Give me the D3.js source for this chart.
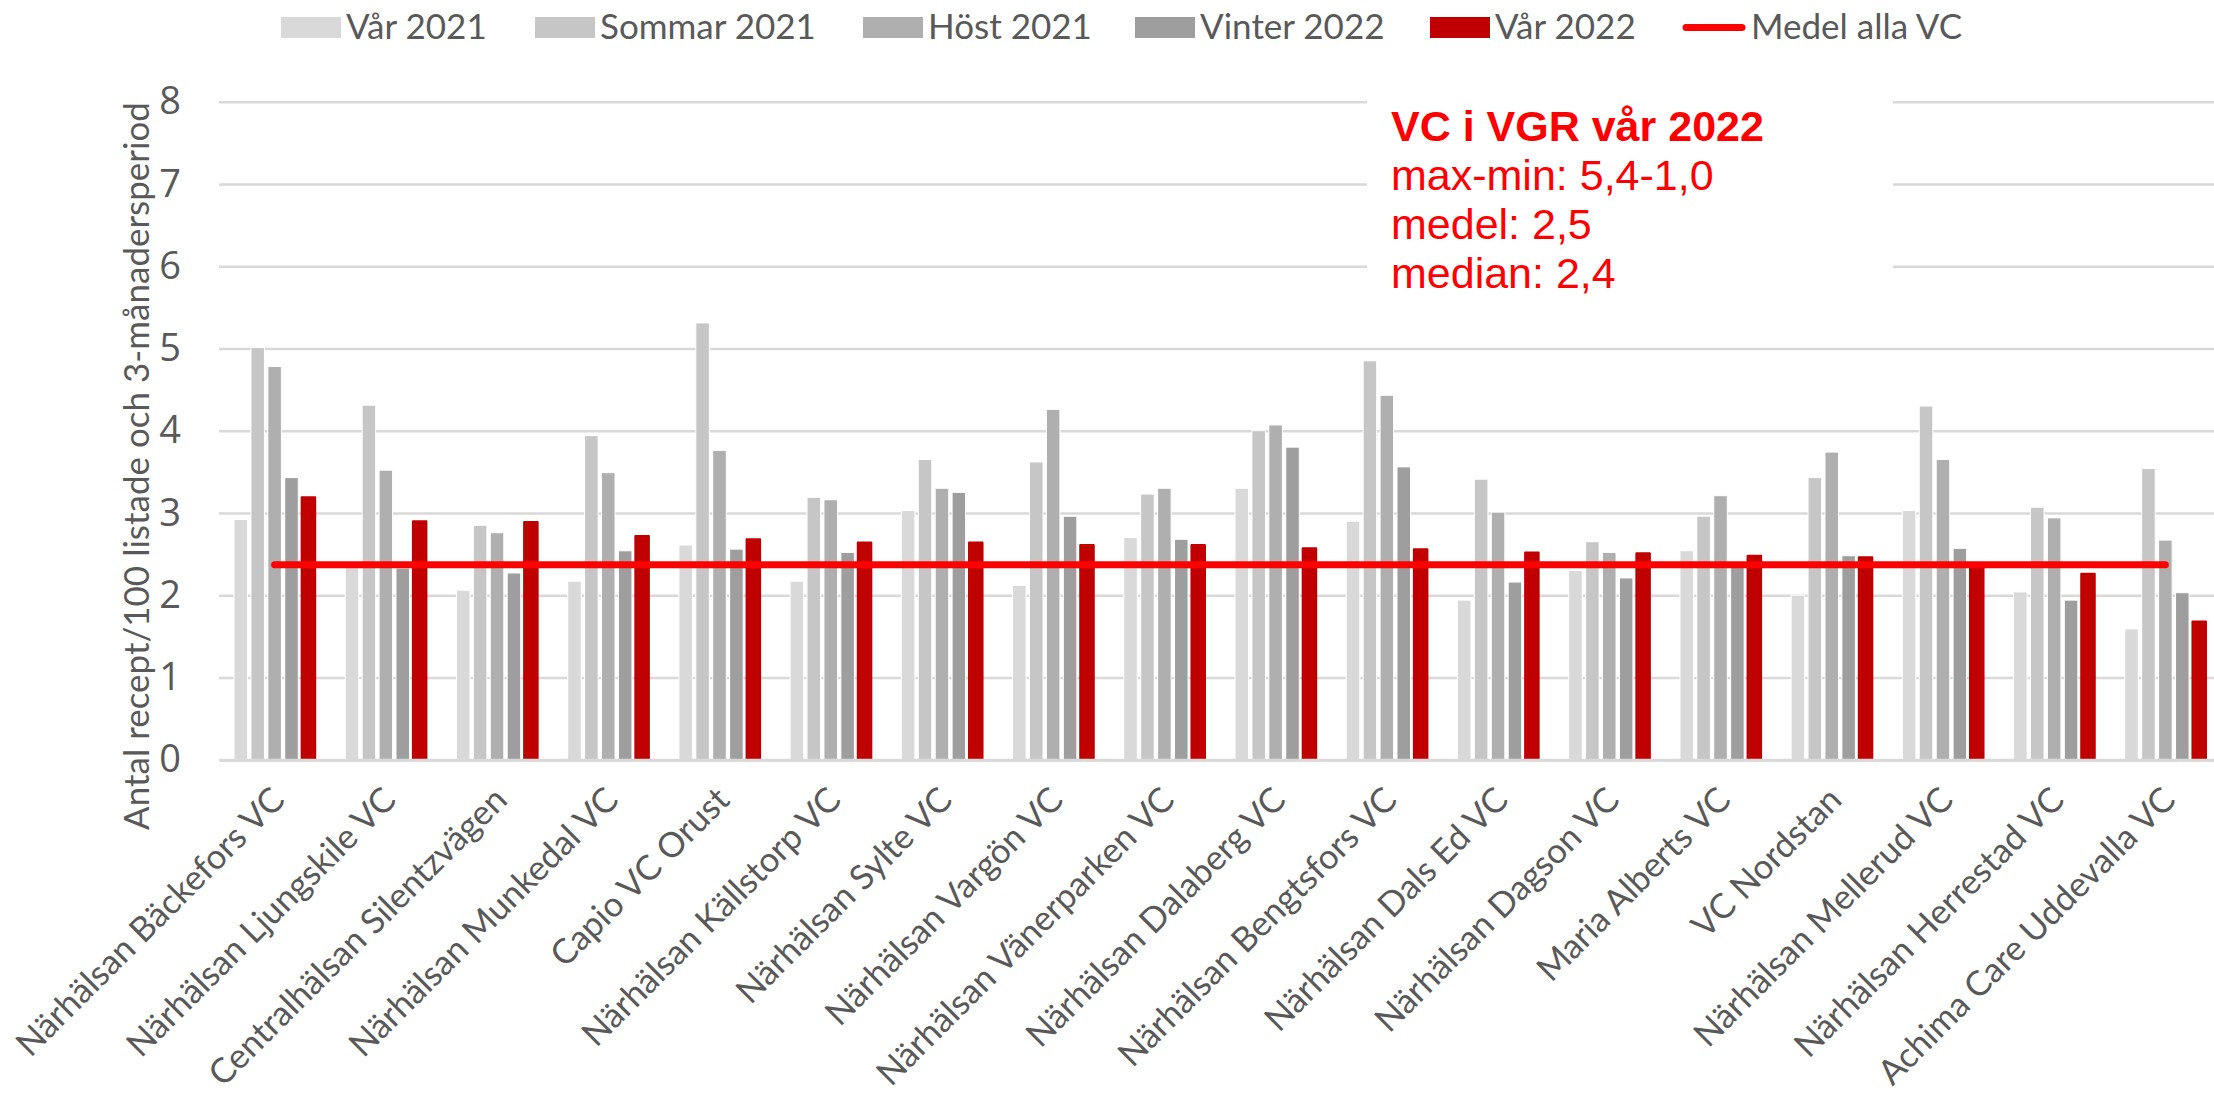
<!DOCTYPE html>
<html>
<head>
<meta charset="utf-8">
<script src="https://cdn.jsdelivr.net/npm/d3@7"></script>
<style>
  html, body { margin: 0; padding: 0; background: #fff; }
  svg { display: block; }
</style>
</head>
<body>
<svg id="chart" width="2214" height="1096"></svg>
<script>
const categories = [
  "Närhälsan Bäckefors VC", "Närhälsan Ljungskile VC", "Centralhälsan Silentzvägen",
  "Närhälsan Munkedal VC", "Capio VC Orust", "Närhälsan Källstorp VC",
  "Närhälsan Sylte VC", "Närhälsan Vargön VC", "Närhälsan Vänerparken VC",
  "Närhälsan Dalaberg VC", "Närhälsan Bengtsfors VC", "Närhälsan Dals Ed VC",
  "Närhälsan Dagson VC", "Maria Alberts VC", "VC Nordstan",
  "Närhälsan Mellerud VC", "Närhälsan Herrestad VC", "Achima Care Uddevalla VC"
];
const seriesNames = ["Vår 2021", "Sommar 2021", "Höst 2021", "Vinter 2022", "Vår 2022"];
const var2021    = [2.92, 2.35, 2.06, 2.17, 2.61, 2.17, 3.03, 2.12, 2.70, 3.30, 2.90, 1.94, 2.30, 2.54, 2.00, 3.03, 2.04, 1.59];
const sommar2021 = [5.01, 4.31, 2.85, 3.94, 5.31, 3.19, 3.65, 3.62, 3.23, 4.00, 4.85, 3.41, 2.65, 2.96, 3.43, 4.30, 3.07, 3.54];
const host2021   = [4.78, 3.52, 2.76, 3.49, 3.76, 3.16, 3.30, 4.26, 3.30, 4.07, 4.43, 3.01, 2.52, 3.21, 3.74, 3.65, 2.94, 2.67];
const vinter2022 = [3.43, 2.33, 2.27, 2.54, 2.56, 2.52, 3.25, 2.96, 2.68, 3.80, 3.56, 2.16, 2.21, 2.34, 2.48, 2.57, 1.94, 2.03];
const var2022    = [3.19, 2.90, 2.89, 2.72, 2.68, 2.64, 2.64, 2.61, 2.61, 2.57, 2.56, 2.52, 2.51, 2.48, 2.46, 2.38, 2.26, 1.68];
const medelAllaVC = 2.37;
const yTicks = [0, 1, 2, 3, 4, 5, 6, 7, 8];
const legendLineName = "Medel alla VC";
const yTitle = "Antal recept/100 listade och 3-månadersperiod";
const noteTitle = "VC i VGR vår 2022";
const noteLines = ["max-min: 5,4-1,0", "medel: 2,5", "median: 2,4"];

const seriesValues = [var2021, sommar2021, host2021, vinter2022, var2022];
const colors = ["#D9D9D9", "#C6C6C6", "#AFAFAF", "#9E9E9E", "#C00000"];
const textColor = "#595959";
const catFont = "Lato, 'Open Sans', sans-serif";

const svg = d3.select("#chart");
svg.append("rect").attr("width", 2214).attr("height", 1096).attr("fill", "#fff");

const plotLeft = 219, plotRight = 2221, plotTop = 101.7, plotBottom = 759.7;

const y = d3.scaleLinear().domain([0, 8]).range([plotBottom, plotTop]);
const x0 = d3.scaleBand().domain(categories).range([plotLeft, plotRight])
  .paddingInner(0.27).paddingOuter(0.135);
const x1 = d3.scaleBand().domain(seriesNames).range([0, x0.bandwidth()])
  .paddingInner(0.2).paddingOuter(0);

// gridlines
const grid = svg.append("g").attr("transform", `translate(${plotLeft},0)`)
  .call(d3.axisLeft(y).tickValues(yTicks).tickSize(-(plotRight - plotLeft)).tickFormat(""));
grid.select(".domain").remove();
grid.selectAll("line").attr("stroke", "#D9D9D9").attr("stroke-width", 2.5);

// y tick labels
const yAxis = svg.append("g").attr("transform", `translate(${plotLeft},0)`)
  .call(d3.axisLeft(y).tickValues(yTicks).tickSize(0).tickPadding(38).tickFormat(d3.format("d")));
yAxis.select(".domain").remove();
yAxis.selectAll("text")
  .attr("fill", textColor)
  .attr("font-family", "'Open Sans', sans-serif")
  .attr("font-size", 38);

// bars
const rows = categories.map((c, i) => ({ cat: c, vals: seriesNames.map((s, j) => ({ s, j, v: seriesValues[j][i] })) }));
const groups = svg.append("g").selectAll("g").data(rows).join("g")
  .attr("transform", d => `translate(${x0(d.cat)},0)`);
groups.selectAll("rect").data(d => d.vals).join("rect")
  .attr("x", d => x1(d.s))
  .attr("width", x1.bandwidth())
  .attr("y", d => y(d.v))
  .attr("height", d => y(0) - y(d.v))
  .attr("fill", d => colors[d.j])
  .attr("stroke", d => d.j === 4 ? colors[4] : "#fff")
  .attr("stroke-width", d => d.j === 4 ? 2 : 1)
  .attr("stroke-linejoin", "round");

// baseline axis
const xAxis = svg.append("g").attr("transform", `translate(0,${plotBottom})`)
  .call(d3.axisBottom(x0).tickSize(0).tickFormat(""));
xAxis.select(".domain").attr("stroke", "#D9D9D9").attr("stroke-width", 3);

// category labels
const labelG = svg.append("g");
labelG.selectAll("text").data(categories).join("text")
  .attr("transform", d => `translate(${x0(d) + x0.bandwidth() / 2 + 12},802) rotate(-45)`)
  .attr("text-anchor", "end")
  .attr("fill", textColor)
  .attr("font-family", catFont)
  .attr("font-size", 34.5)
  .text(d => d);

// mean line
const cx = d => x0(d) + x0.bandwidth() / 2;
svg.append("line")
  .attr("x1", cx(categories[0])).attr("x2", cx(categories[categories.length - 1]))
  .attr("y1", y(medelAllaVC)).attr("y2", y(medelAllaVC))
  .attr("stroke", "#FF0000").attr("stroke-width", 7).attr("stroke-linecap", "round");

// annotation box
svg.append("rect").attr("x", 1367).attr("y", 80).attr("width", 526).attr("height", 230).attr("fill", "#fff");
const note = svg.append("text").attr("x", 1391).attr("y", 141)
  .attr("fill", "#FF0000").attr("font-family", "'Liberation Sans', Arial, sans-serif").attr("font-size", 43);
note.append("tspan").attr("x", 1391).attr("font-weight", "bold").text(noteTitle);
noteLines.forEach((t, i) => note.append("tspan").attr("x", 1391).attr("dy", 49).text(t));

// y title
svg.append("text")
  .attr("transform", `translate(149,466) rotate(-90)`)
  .attr("text-anchor", "middle")
  .attr("fill", textColor)
  .attr("font-family", catFont)
  .attr("font-size", 35)
  .text(yTitle);

// legend
const legendX = [281, 535, 863, 1135, 1430];
const lg = svg.append("g");
seriesNames.forEach((s, i) => {
  lg.append("rect").attr("x", legendX[i]).attr("y", 17).attr("width", 60).attr("height", 21).attr("fill", colors[i]);
  lg.append("text").attr("x", legendX[i] + 65).attr("y", 39)
    .attr("fill", textColor).attr("font-family", catFont).attr("font-size", 35).text(s);
});
lg.append("line").attr("x1", 1686).attr("x2", 1742).attr("y1", 27.5).attr("y2", 27.5)
  .attr("stroke", "#FF0000").attr("stroke-width", 7).attr("stroke-linecap", "round");
lg.append("text").attr("x", 1751).attr("y", 39)
  .attr("fill", textColor).attr("font-family", catFont).attr("font-size", 35).text(legendLineName);
</script>
</body>
</html>
